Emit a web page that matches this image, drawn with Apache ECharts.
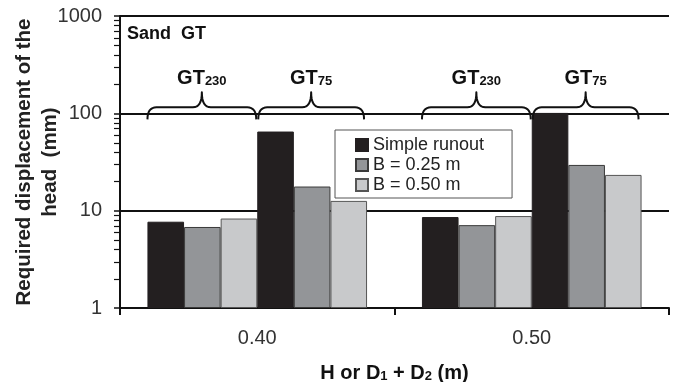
<!DOCTYPE html>
<html>
<head>
<meta charset="utf-8">
<script src="https://cdn.jsdelivr.net/npm/echarts@6/dist/echarts.min.js"></script>
<style>
  html, body { margin: 0; padding: 0; background: #fff; }
  #main { width: 677px; height: 382px; }
</style>
</head>
<body>
<div id="main"></div>
<script>
// H or D1 + D2 (m)
const categories = ['0.40', '0.50'];
const groupNames = ['230', '75'];
const legendNames = ['Simple runout', 'B = 0.25 m', 'B = 0.50 m'];

// required displacement of the head (mm)
const gt230Simple = [7.7, 8.6];
const gt230B025 = [6.8, 7.1];
const gt230B050 = [8.3, 8.8];
const gt75Simple = [65, 101];
const gt75B025 = [17.7, 29.5];
const gt75B050 = [12.6, 23.3];

const yMin = 1;
const yMax = 1000;
const minorSteps = [2, 3, 4, 5, 6, 7, 8, 9];

const FONT = '"Liberation Sans", Arial, sans-serif';
const colors = ['#231f20', '#939598', '#c8c9cb'];
const borders = ['#231f20', '#3a3a3a', '#555'];

const gridLeft = 120;

const makeBar = (name, data, idx) => ({
  name: name,
  type: 'bar',
  data: data,
  barGap: '0%',
  barCategoryGap: '20%',
  itemStyle: { color: colors[idx], borderColor: borders[idx], borderWidth: 1 },
  emphasis: { disabled: true },
});

const myChart = echarts.init(document.getElementById('main'));

const option = {
  animation: false,
  textStyle: { fontFamily: FONT },
  title: {
    text: 'Sand  GT',
    left: 127,
    top: 25,
    padding: 0,
    textStyle: { fontFamily: FONT, fontSize: 18, fontWeight: 'bold', color: '#111' },
  },
  legend: {
    data: legendNames,
    orient: 'vertical',
    left: 335,
    top: 130,
    padding: [6, 28, 4, 20],
    itemWidth: 12,
    itemHeight: 12,
    itemGap: 2,
    icon: 'rect',
    backgroundColor: '#fff',
    borderColor: '#555',
    borderWidth: 1,
    borderRadius: 0,
    selectedMode: false,
    textStyle: { fontFamily: FONT, fontSize: 18, color: '#222' },
  },
  grid: { left: gridLeft, right: 8, top: 16, bottom: 74, outerBoundsMode: 'none', containLabel: false },
  xAxis: {
    type: 'category',
    data: categories,
    name: 'H or D{s|1} + D{s|2} (m)',
    nameLocation: 'middle',
    nameGap: 55,
    nameMoveOverlap: false,
    nameTextStyle: {
      fontFamily: FONT,
      fontSize: 20,
      fontWeight: 'bold',
      color: '#111',
      rich: {
        s: { fontFamily: FONT, fontSize: 13, fontWeight: 'bold', color: '#111', verticalAlign: 'bottom' },
      },
    },
    axisLine: { lineStyle: { color: '#111', width: 2 } },
    axisTick: { show: true, length: 7, lineStyle: { color: '#111', width: 2 } },
    axisLabel: { fontFamily: FONT, fontSize: 20, color: '#333', margin: 20 },
  },
  yAxis: {
    type: 'log',
    logBase: 10,
    min: yMin,
    max: yMax,
    name: 'Required displacement of the\nhead  (mm)',
    nameLocation: 'middle',
    nameGap: 57,
    nameMoveOverlap: false,
    nameTextStyle: { fontFamily: FONT, fontSize: 20.5, fontWeight: 'bold', color: '#222', lineHeight: 26 },
    axisLine: { show: true, lineStyle: { color: '#111', width: 2 } },
    axisTick: { show: true, length: 6, lineStyle: { color: '#111', width: 1.5 } },
    axisLabel: { fontFamily: FONT, fontSize: 20, color: '#333', margin: 18, formatter: (v) => String(v) },
    splitLine: { show: true, lineStyle: { color: '#111', width: 2 } },
  },
  series: [
    makeBar(legendNames[0], gt230Simple, 0),
    makeBar(legendNames[1], gt230B025, 1),
    makeBar(legendNames[2], gt230B050, 2),
    makeBar(legendNames[0], gt75Simple, 0),
    makeBar(legendNames[1], gt75B025, 1),
    makeBar(legendNames[2], gt75B050, 2),
  ],
};

myChart.setOption(option);

// quadratic curve sampled into points
function quad(p0, p1, p2, n) {
  const pts = [];
  for (let k = 1; k <= n; k++) {
    const t = k / n;
    const a = (1 - t) * (1 - t), b = 2 * (1 - t) * t, c = t * t;
    pts.push([a * p0[0] + b * p1[0] + c * p2[0], a * p0[1] + b * p1[1] + c * p2[1]]);
  }
  return pts;
}

// curly brace points between x0 and x1
function bracePoints(x0, x1, yTip, yLine, yPeak) {
  const xm = (x0 + x1) / 2;
  const r = 9;
  let pts = [[x0, yTip]];
  pts = pts.concat(quad([x0, yTip], [x0, yLine], [x0 + r, yLine], 8));
  pts.push([xm - r, yLine]);
  pts = pts.concat(quad([xm - r, yLine], [xm, yLine], [xm, yPeak], 8));
  pts = pts.concat(quad([xm, yPeak], [xm, yLine], [xm + r, yLine], 8));
  pts.push([x1 - r, yLine]);
  pts = pts.concat(quad([x1 - r, yLine], [x1, yLine], [x1, yTip], 8));
  return pts;
}

function addDecorations() {
  const elements = [];
  const c0 = myChart.convertToPixel({ xAxisIndex: 0 }, 0);
  const c1 = myChart.convertToPixel({ xAxisIndex: 0 }, 1);
  const band = c1 - c0;
  const y100 = myChart.convertToPixel({ yAxisIndex: 0 }, 100);

  categories.forEach((cat, i) => {
    const cx = myChart.convertToPixel({ xAxisIndex: 0 }, i);
    const spans = [[cx - 0.4 * band, cx - 1], [cx + 1, cx + 0.4 * band - 3]];
    spans.forEach((s, g) => {
      elements.push({
        type: 'polyline',
        shape: { points: bracePoints(s[0], s[1], y100 + 6, y100 - 6, y100 - 21) },
        style: { fill: null, stroke: '#111', lineWidth: 2, lineJoin: 'round' },
        silent: true,
        z: 10,
      });
      elements.push({
        type: 'text',
        x: (s[0] + s[1]) / 2,
        y: y100 - 35,
        style: {
          text: '{a|GT}{b|' + groupNames[g] + '}',
          align: 'center',
          verticalAlign: 'middle',
          rich: {
            a: { fontFamily: FONT, fontSize: 20, fontWeight: 'bold', fill: '#111', lineHeight: 20 },
            b: { fontFamily: FONT, fontSize: 13, fontWeight: 'bold', fill: '#111', verticalAlign: 'bottom', lineHeight: 14 },
          },
        },
        silent: true,
        z: 10,
      });
    });
  });

  for (let d = yMin; d < yMax; d *= 10) {
    minorSteps.forEach((k) => {
      const y = Math.round(myChart.convertToPixel({ yAxisIndex: 0 }, d * k)) + 0.5;
      elements.push({
        type: 'line',
        shape: { x1: gridLeft - 6, y1: y, x2: gridLeft, y2: y },
        style: { stroke: '#111', lineWidth: 1.2 },
        silent: true,
      });
    });
  }

  myChart.setOption({ graphic: { elements: elements } });
}

addDecorations();
</script>
</body>
</html>
